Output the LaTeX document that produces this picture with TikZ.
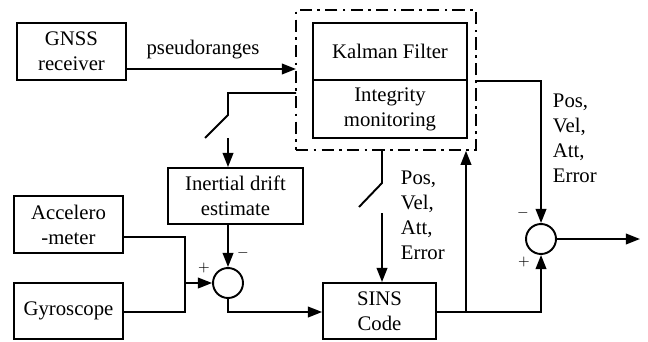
\documentclass[tikz,border=0pt]{standalone}
\usepackage{fontspec}
\setmainfont{Liberation Serif}
\usetikzlibrary{shapes, arrows.meta, positioning}

\begin{document}
\begin{tikzpicture}[x=0.02cm, y=-0.02cm,
                    block/.style={rectangle, draw, align=center, inner sep=0pt},
                    sum/.style={circle, draw, minimum size=0.6cm, inner sep=0pt},
                    sign/.style={font=\footnotesize, inner sep=0pt},
                    outs/.style={align=left, anchor=west, inner sep=0pt},
                    line width=1.1pt, >={Triangle[length=8pt,width=6pt]},
                    font=\fontsize{11.8}{14.2}\selectfont]
\useasboundingbox (0,0) rectangle (648,341);

% Nodes
\node (gnss) [block, minimum width=2.18cm, minimum height=1.14cm] at (71.5,51.5) {GNSS\\receiver};
\node (ekf) [rectangle, draw, dash pattern=on 7pt off 3pt on 1.5pt off 3pt, line width=0.9pt,
             minimum width=3.6cm, minimum height=2.8cm] at (386,80) {};
\node (kf) [block, minimum width=3.08cm, minimum height=1.14cm] at (390,51.5) {Kalman Filter};
\node (im) [block, minimum width=3.08cm, minimum height=1.16cm, below=-1.1pt of kf] {Integrity\\monitoring};
\node (ide) [block, minimum width=2.7cm, minimum height=1.12cm] at (235.5,196) {Inertial drift\\estimate};
\node (acc) [block, minimum width=2.18cm, minimum height=1.14cm] at (68.5,224.5) {Accelero\\-meter};
\node (gyro) [block, minimum width=2.18cm, minimum height=1.12cm] at (68.5,311) {Gyroscope};
\node (sins) [block, minimum width=2.26cm, minimum height=1.12cm] at (379.5,311) {SINS\\Code};
\node (sum1) [sum] at (228,283) {};
\node (sum2) [sum] at (541,239) {};

% Switches and junctions
\coordinate (pin) at (296,69);
\coordinate (sw1in) at (296,93);
\coordinate (sw1top) at (228,115);
\coordinate (sw1tip) at (205,138);
\coordinate (sw1out) at (228,138);
\coordinate (sw2top) at (382,183);
\coordinate (sw2tip) at (359,207);
\coordinate (sw2out) at (382,213);
\coordinate (jn) at (185,283);
\coordinate (br) at (466,312);
\coordinate (out) at (640,239);

% Edges
\draw[->] (gnss.east |- pin) -- node[above=2pt, pos=0.45] {pseudoranges} (pin);
\draw (sw1in) -| (sw1top) -- (sw1tip);
\draw[->] (sw1out) -- (sw1out |- ide.north);
\draw[->] (sum1 |- ide.south) -- (sum1.north);
\draw ([yshift=-0.25cm]acc.east) -| (jn);
\draw (gyro.east |- br) -| (jn);
\draw[->] (jn) -- (sum1.west);
\draw[->] (sum1.south) |- (sins.west |- br);
\draw (sw2top |- ekf.south) -- (sw2top) -- (sw2tip);
\draw[->] (sw2out) -- (sw2out |- sins.north);
\draw[->] (sins.east |- br) -| (sum2.south);
\draw[->] (br) -- (br |- ekf.south);
\draw[->] (kf.south -| ekf.east) -| (sum2.north);
\draw[->] (sum2.east) -- (out);

% Labels
\node [outs] at (400,215) {Pos,\\Vel,\\Att,\\Error};
\node [outs] at (552,138) {Pos,\\Vel,\\Att,\\Error};
\node [sign] at (204,268) {$+$};
\node [sign] at (243,253) {$-$};
\node [sign] at (523,213) {$-$};
\node [sign] at (524,262) {$+$};

\end{tikzpicture}
\end{document}
